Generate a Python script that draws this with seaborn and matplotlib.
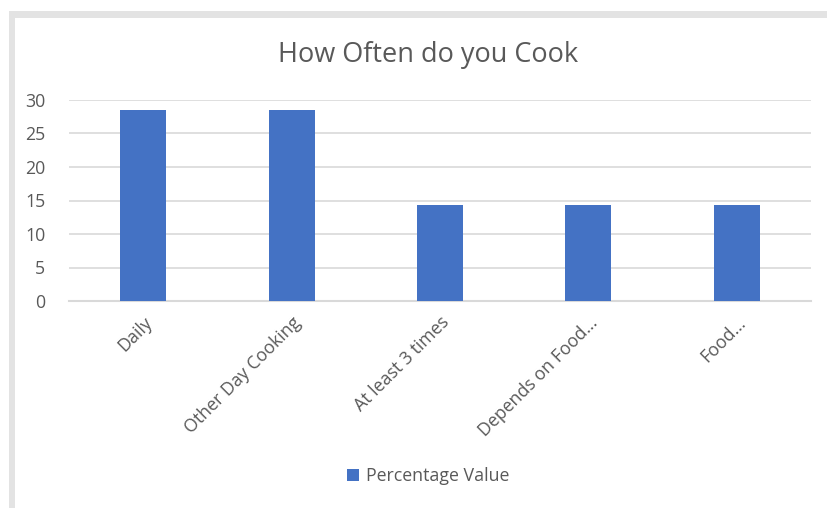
import matplotlib
matplotlib.use("Agg")
import matplotlib.pyplot as plt
from matplotlib.patches import Rectangle, Patch
import seaborn as sns

categories = ["Daily", "Other Day Cooking", "At least 3 times", "Depends on Food...", "Food..."]
values = [28.57, 28.57, 14.29, 14.29, 14.29]
series_name = "Percentage Value"
title = "How Often do you Cook"
yticks = [0, 5, 10, 15, 20, 25, 30]

BAR = "#4472C4"
TXT = "#595959"
GRID = "#D9D9D9"

sns.set_theme(style="white")
plt.rcParams["font.family"] = ["Open Sans", "DejaVu Sans"]

W, H = 828, 508
fig = plt.figure(figsize=(W / 100, H / 100), dpi=100)
fig.patch.set_facecolor("white")

# outer frame of the chart (screenshot border)
fig.patches.append(Rectangle((9 / W, 0), 6 / W, 1 - 11 / H, transform=fig.transFigure,
                             facecolor="#E3E3E3", edgecolor="none", zorder=0))
fig.patches.append(Rectangle((9 / W, 1 - 18 / H), 1 - 9 / W, 7 / H, transform=fig.transFigure,
                             facecolor="#E3E3E3", edgecolor="none", zorder=0))

ax = fig.add_axes([69 / W, 1 - 301 / H, (811 - 69) / W, (301 - 100) / H])
sns.barplot(x=categories, y=values, color=BAR, width=0.31, ax=ax, saturation=1,
            edgecolor="none", zorder=3)

ax.set_xlim(-0.5, len(categories) - 0.5)
ax.set_ylim(0, 30)
ax.set_yticks(yticks)
ax.yaxis.grid(True, color=GRID, linewidth=1.2, zorder=0)
ax.set_axisbelow(True)
for s in ["top", "right", "left"]:
    ax.spines[s].set_visible(False)
ax.spines["bottom"].set_color(GRID)
ax.spines["bottom"].set_linewidth(1.5)
ax.tick_params(axis="both", length=0, colors=TXT, labelsize=12.8)
ax.tick_params(axis="y", pad=17)
ax.tick_params(axis="x", pad=9)
ax.set_xlabel("")
ax.set_ylabel("")
for lab in ax.get_xticklabels():
    lab.set_rotation(45)
    lab.set_ha("right")
    lab.set_rotation_mode("anchor")
    lab.set_color(TXT)
for lab in ax.get_yticklabels():
    lab.set_color(TXT)

fig.text(428 / W, 1 - 55 / H, title, ha="center", va="center", fontsize=19.5, color=TXT)

handle = Patch(facecolor=BAR, edgecolor="none", label=series_name)
fig.legend(handles=[handle], loc="center", bbox_to_anchor=(428 / W, 1 - 476 / H),
           frameon=False, fontsize=12.8, labelcolor=TXT, handlelength=0.7, handleheight=0.7,
           handletextpad=0.4)

fig.savefig("out.png", dpi=100, facecolor="white")
